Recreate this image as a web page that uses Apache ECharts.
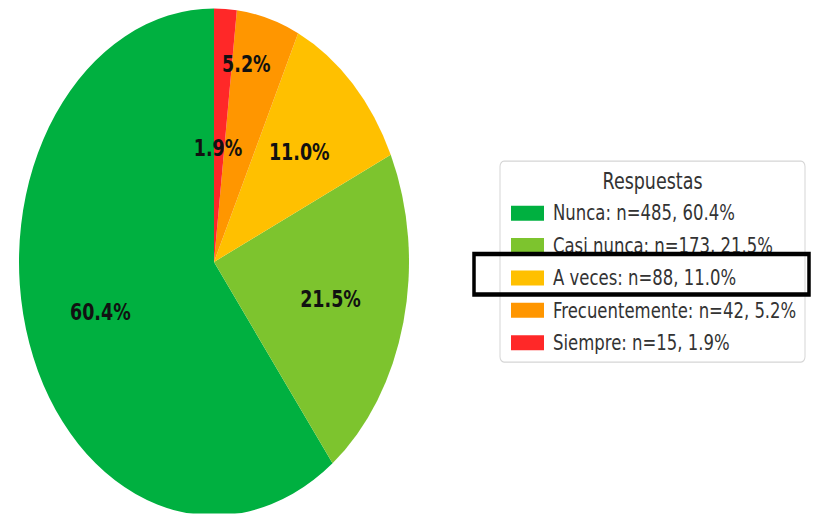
<!DOCTYPE html>
<html>
<head>
<meta charset="utf-8">
<script src="https://cdn.jsdelivr.net/npm/echarts@6/dist/echarts.min.js"></script>
<style>
html,body{margin:0;padding:0;background:#fff;overflow:hidden;}
#wrap{width:813px;height:514px;overflow:hidden;}
#chart{width:813px;height:395px;transform:scaleY(1.3);transform-origin:0 0;}
</style>
</head>
<body>
<div id="wrap"><div id="chart"></div></div>
<script>
const categories = ['Nunca', 'Casi nunca', 'A veces', 'Frecuentemente', 'Siempre'];
const counts = [485, 173, 88, 42, 15];
const percents = [60.4, 21.5, 11.0, 5.2, 1.9];
const colors = ['#00b040', '#7dc42e', '#ffc000', '#ff9600', '#ff2828'];
const legendTitle = 'Respuestas';

const pieData = categories.map((c, i) => ({ name: c, value: counts[i], itemStyle: { color: colors[i] } }));
const labelData = categories.map((c, i) => ({ name: c, value: counts[i] }));

const chart = echarts.init(document.getElementById('chart'), null, { renderer: 'svg' });
const cx = 214, cy = 201.5, R = 195;
chart.setOption({
  animation: false,
  backgroundColor: '#fff',
  legend: {
    orient: 'vertical',
    left: 506,
    top: 149,
    data: categories,
    icon: 'rect',
    itemWidth: 33,
    itemHeight: 11.5,
    itemGap: 4.9,
    textStyle: { fontFamily: 'DejaVu Sans', fontSize: 16.5, color: '#333', lineHeight: 20, padding: [0, 0, 0, 4] },
    formatter: function (name) {
      const i = categories.indexOf(name);
      return name + ': n=' + counts[i] + ', ' + percents[i].toFixed(1) + '%';
    },
    selectedMode: false
  },
  graphic: [
    { type: 'rect', z: -1, shape: { x: 500, y: 124, width: 305, height: 154.5, r: 4 }, style: { fill: '#fff', stroke: '#d5d5d5', lineWidth: 1 } },
    { type: 'text', x: 652.5, y: 139.2, style: { text: legendTitle, fontFamily: 'DejaVu Sans', fontSize: 17.5, fill: '#333', align: 'center', verticalAlign: 'middle' } },
    { type: 'rect', z: 100, shape: { x: 474, y: 195.4, width: 335, height: 31.1 }, style: { fill: 'none', stroke: '#000', lineWidth: 3.5 } }
  ],
  series: [
    {
      type: 'pie',
      center: [cx, cy],
      radius: [0, R],
      startAngle: 90,
      clockwise: false,
      data: pieData,
      label: { show: false },
      labelLine: { show: false },
      emphasis: { disabled: true },
      itemStyle: { borderWidth: 0 }
    },
    {
      type: 'pie',
      center: [cx, cy],
      radius: [0, R * 1.2],
      startAngle: 90,
      clockwise: false,
      silent: true,
      data: labelData,
      itemStyle: { color: 'rgba(0,0,0,0)', borderWidth: 0 },
      emphasis: { disabled: true },
      labelLine: { show: false },
      label: {
        show: true,
        position: 'inside',
        formatter: function (p) { return percents[p.dataIndex].toFixed(1) + '%'; },
        fontFamily: 'DejaVu Sans',
        fontWeight: 'bold',
        fontSize: 17.5,
        color: '#111'
      },
      labelLayout: function (p) {
        if (p.dataIndex === 4) return { dx: -3, dy: 32 };
        if (p.dataIndex === 3) return { dx: -1, dy: -37 };
        return {};
      }
    }
  ]
});
</script>
</body>
</html>
